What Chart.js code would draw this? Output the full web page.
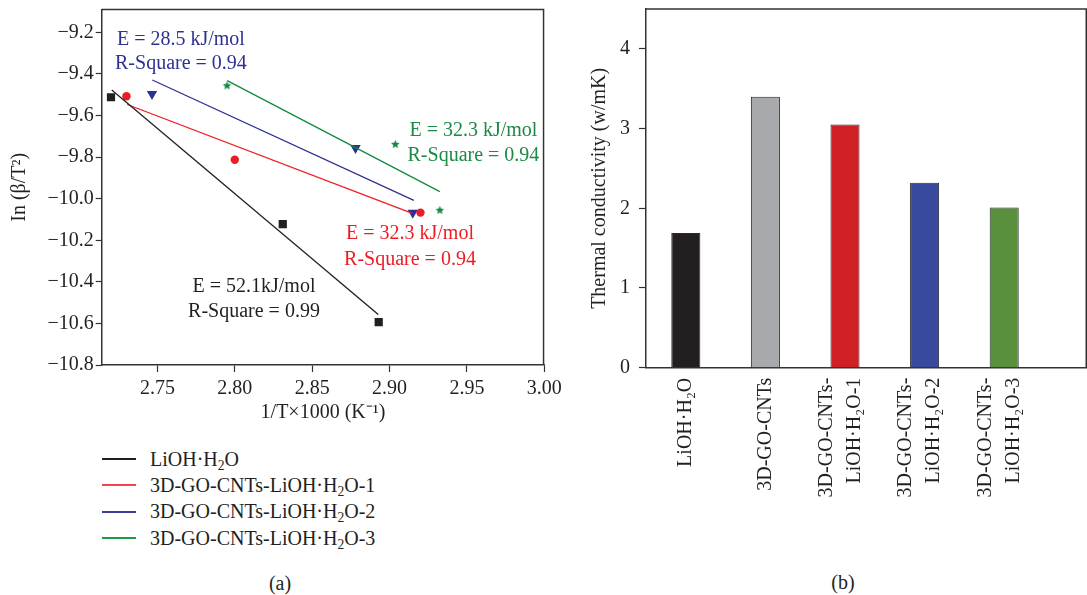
<!DOCTYPE html>
<html><head><meta charset="utf-8">
<script src="https://cdn.jsdelivr.net/npm/chart.js@4.4.1/dist/chart.umd.min.js"></script>
<style>
html,body{margin:0;padding:0;background:#fff;}
body{width:1087px;height:595px;position:relative;overflow:hidden;font-family:"Liberation Serif","Times New Roman",serif;color:#231f20;}
#c1{position:absolute;left:0;top:0;}
#c2{position:absolute;left:560px;top:0;}
#legend{position:absolute;left:102px;top:446px;}
.row{height:26.3px;display:flex;align-items:center;font-size:20px;white-space:nowrap;}
.sw{width:34px;height:2px;margin-right:14px;}
.row sub{font-size:0.68em;vertical-align:-0.3em;line-height:0;}
.cap{position:absolute;font-size:20px;transform:translate(-50%,-50%);white-space:nowrap;}
</style></head><body>
<canvas id="c1" width="580" height="430"></canvas>
<canvas id="c2" width="527" height="520"></canvas>
<div id="legend"></div>
<div class="cap" style="left:280px;top:583px">(a)</div>
<div class="cap" style="left:843px;top:582px">(b)</div>
<script>
// ---------- data (panel a) ----------
const seriesNames = ['LiOH·H₂O', '3D-GO-CNTs-LiOH·H₂O-1', '3D-GO-CNTs-LiOH·H₂O-2', '3D-GO-CNTs-LiOH·H₂O-3'];
const pureX = [2.720, 2.831, 2.893];
const pureY = [-9.512, -10.122, -10.594];
const s1X = [2.730, 2.800, 2.920];
const s1Y = [-9.507, -9.813, -10.067];
const s2X = [2.7465, 2.878, 2.915];
const s2Y = [-9.496, -9.756, -10.068];
const s3X = [2.795, 2.9037, 2.9325];
const s3Y = [-9.457, -9.739, -10.056];
const fitPureX = [2.7205, 2.8927];
const fitPureY = [-9.477, -10.557];
const fit1X = [2.7305, 2.9143];
const fit1Y = [-9.547, -10.069];
const fit2X = [2.7467, 2.9157];
const fit2Y = [-9.429, -10.008];
const fit3X = [2.7951, 2.9325];
const fit3Y = [-9.432, -9.966];
const energyLabels = ['E = 52.1kJ/mol', 'E = 32.3 kJ/mol', 'E = 28.5 kJ/mol', 'E = 32.3 kJ/mol'];
const rSquareLabels = ['R-Square = 0.99', 'R-Square = 0.94', 'R-Square = 0.94', 'R-Square = 0.94'];

// ---------- data (panel b) ----------
const barCategories = ['LiOH·H₂O', '3D-GO-CNTs', ['3D-GO-CNTs-', 'LiOH·H₂O-1'], ['3D-GO-CNTs-', 'LiOH·H₂O-2'], ['3D-GO-CNTs-', 'LiOH·H₂O-3']];
const barValues = [1.69, 3.40, 3.05, 2.32, 2.01];

// ---------- styles / layout ----------
const FONT = '"Liberation Serif", "Times New Roman", serif';
const INK = '#231f20';
const AXIS = '#333333';
const seriesColors = ['#231f20', '#ed1c24', '#2e3192', '#138a3f'];
const legendColors = ['#231f20', '#f0454f', '#3b3f9a', '#1c9a4a'];
const textColors = ['#231f20', '#ec1c24', '#2e3192', '#1a8a45'];
const barColors = ['#231f20', '#a7a9ac', '#d11f26', '#374a9e', '#5a8f3e'];
// annotation anchors in data units: [x, y line1, y line2]
const annotationAnchors = [[2.8124, -10.424, -10.544], [2.9132, -10.168, -10.296], [2.7652, -9.235, -9.352], [2.9542, -9.672, -9.793]];

Chart.defaults.font.family = FONT;
Chart.defaults.color = INK;
Chart.defaults.animation = false;

function pts(xs, ys) { return xs.map((x, i) => ({x: x, y: ys[i]})); }
function makeStar(color, r) {
  const c = document.createElement('canvas');
  const s = Math.ceil(r * 2 + 2);
  c.width = c.height = s;
  const g = c.getContext('2d');
  g.fillStyle = color;
  g.beginPath();
  for (let i = 0; i < 10; i++) {
    const a = -Math.PI / 2 + i * Math.PI / 5;
    const rr = i % 2 ? r * 0.45 : r;
    g.lineTo(s / 2 + rr * Math.cos(a), s / 2 + rr * Math.sin(a));
  }
  g.closePath(); g.fill();
  return c;
}
const minus = v => String(v).replace('-', '\u2212');

// plugin: frame, minor ticks, annotations
function framePlugin(minorLen) {
  return {
    id: 'frame',
    afterDraw(chart) {
      const {ctx, chartArea: a, scales} = chart;
      ctx.save();
      ctx.strokeStyle = AXIS;
      ctx.lineWidth = 1.5;
      ctx.beginPath();
      ctx.moveTo(a.left, a.top); ctx.lineTo(a.right - 0.75, a.top); ctx.lineTo(a.right - 0.75, a.bottom);
      ctx.stroke();
      ctx.lineWidth = 1.2;
      ctx.beginPath();
      const xs = scales.x, ys = scales.y;
      if (xs.options.minor) xs.ticks.forEach(t => {
        if (t.label === null) { const p = xs.getPixelForValue(t.value); ctx.moveTo(p, a.bottom); ctx.lineTo(p, a.bottom + minorLen); }
      });
      ys.ticks.forEach(t => {
        if (t.label === null) { const p = ys.getPixelForValue(t.value); ctx.moveTo(a.left, p); ctx.lineTo(a.left - minorLen, p); }
      });
      ctx.stroke();
      const ann = chart.options.plugins.frame && chart.options.plugins.frame.annotations;
      if (ann) {
        ctx.font = '20px ' + FONT;
        ctx.textAlign = 'center';
        ctx.textBaseline = 'middle';
        ann.forEach(n => {
          ctx.fillStyle = n.color;
          const px = xs.getPixelForValue(n.x);
          ctx.fillText(n.lines[0], px, ys.getPixelForValue(n.y1));
          ctx.fillText(n.lines[1], px, ys.getPixelForValue(n.y2));
        });
      }
      ctx.restore();
    }
  };
}

// ---------- panel a ----------
const pointXs = [pureX, s1X, s2X, s3X];
const pointYs = [pureY, s1Y, s2Y, s3Y];
const fitXs = [fitPureX, fit1X, fit2X, fit3X];
const fitYs = [fitPureY, fit1Y, fit2Y, fit3Y];
const markerStyles = ['rect', 'circle', 'triangle', makeStar(seriesColors[3], 4.5)];
const markerRadius = [5.8, 4.2, 6, 4];
const markerRotation = [0, 0, 180, 0];

const dsA = [];
seriesNames.forEach((name, i) => {
  dsA.push({
    label: name, type: 'scatter', data: pts(fitXs[i], fitYs[i]), showLine: true,
    borderColor: seriesColors[i], borderWidth: 1.3, pointRadius: 0, fill: false
  });
});
seriesNames.forEach((name, i) => {
  dsA.push({
    label: name + ' data', type: 'scatter', data: pts(pointXs[i], pointYs[i]), showLine: false,
    pointStyle: markerStyles[i], pointRadius: markerRadius[i], pointRotation: markerRotation[i],
    backgroundColor: seriesColors[i], borderColor: seriesColors[i], borderWidth: 0
  });
});

const isMultiple = (v, step) => Math.abs(v / step - Math.round(v / step)) < 1e-6;

new Chart(document.getElementById('c1'), {
  type: 'scatter',
  data: {datasets: dsA},
  options: {
    responsive: false, devicePixelRatio: 1, events: [],
    layout: {padding: {left: 0, top: 9.5, right: 35.7, bottom: 0}},
    plugins: {
      legend: {display: false}, tooltip: {enabled: false},
      frame: {annotations: annotationAnchors.map((a, i) => ({x: a[0], y1: a[1], y2: a[2], lines: [energyLabels[i], rSquareLabels[i]], color: textColors[i]}))}
    },
    scales: {
      x: {
        type: 'linear', min: 2.714, max: 3.0, minor: true,
        afterFit: s => { s.height = 65; s.paddingLeft = 0; },
        border: {color: AXIS, width: 1.5},
        grid: {drawOnChartArea: false, drawTicks: true, tickLength: 7, tickWidth: 1.2,
          tickColor: c => (c.tick && c.tick.label !== null) ? AXIS : 'rgba(0,0,0,0)'},
        ticks: {stepSize: 0.025, includeBounds: false, padding: 5, color: INK, font: {size: 20},
          maxRotation: 0, autoSkip: false,
          callback: v => isMultiple(v, 0.05) ? v.toFixed(2) : null},
        title: {display: true, text: '1/T×1000 (K⁻¹)', color: INK, font: {size: 20}, padding: {top: 0, bottom: 5}}
      },
      y: {
        type: 'linear', min: -10.8, max: -9.09,
        afterFit: s => { s.width = 101.7; s.paddingTop = 0; s.paddingBottom = 0; },
        border: {color: AXIS, width: 1.5},
        grid: {drawOnChartArea: false, drawTicks: true, tickLength: 6, tickWidth: 1.2,
          tickColor: c => (c.tick && c.tick.label !== null) ? AXIS : 'rgba(0,0,0,0)'},
        ticks: {stepSize: 0.1, includeBounds: false, padding: 2, color: INK, font: {size: 20},
          callback: v => isMultiple(v, 0.2) ? minus(v.toFixed(1)) : null},
        title: {display: true, text: 'In (β/T²)', color: INK, font: {size: 20}, padding: {top: 8, bottom: 0}}
      }
    }
  },
  plugins: [framePlugin(4)]
});

// HTML legend for panel a
const legendEl = document.getElementById('legend');
dsA.slice(0, seriesNames.length).forEach((d, i) => {
  const row = document.createElement('div');
  row.className = 'row';
  const sw = document.createElement('span');
  sw.className = 'sw';
  sw.style.background = legendColors[i];
  const tx = document.createElement('span');
  tx.innerHTML = d.label.replace(/₂/g, '<sub>2</sub>');
  row.appendChild(sw); row.appendChild(tx);
  legendEl.appendChild(row);
});

// ---------- panel b ----------
const LH = 28 / 3; // px between stacked label slots
function labelSlots(lab) {
  // single-line: centered slot; two-line: outer slots
  return Array.isArray(lab) ? [lab[0], '', '', lab[1]] : ['', '', lab];
}

new Chart(document.getElementById('c2'), {
  type: 'bar',
  data: {datasets: [{
    label: 'Thermal conductivity',
    data: barValues.map((v, i) => ({x: i + 1, y: v})),
    backgroundColor: barColors, borderColor: '#2b2b2b', borderWidth: 1,
    categoryPercentage: 1, barPercentage: 0.365
  }]},
  options: {
    responsive: false, devicePixelRatio: 1, events: [],
    layout: {padding: {left: 0, top: 9, right: 0, bottom: 0}},
    plugins: {legend: {display: false}, tooltip: {enabled: false}},
    scales: {
      x: {
        type: 'linear', min: 0.5, max: 6.04, offset: false,
        afterFit: s => { s.height = 152.3; s.paddingLeft = 0; s.paddingRight = 0; },
        border: {color: AXIS, width: 1.5},
        grid: {display: false, drawTicks: false},
        ticks: {stepSize: 1, includeBounds: false, autoSkip: false, minRotation: 90, maxRotation: 90,
          padding: 10, labelOffset: -2 * LH, color: INK, font: {size: 20, lineHeight: LH / 20},
          callback: v => (Number.isInteger(v) && v >= 1 && v <= barCategories.length) ? labelSlots(barCategories[v - 1]) : null}
      },
      y: {
        type: 'linear', min: 0, max: 4.5,
        afterFit: s => { s.width = 86; s.paddingTop = 0; s.paddingBottom = 0; },
        border: {color: AXIS, width: 1.5},
        grid: {drawOnChartArea: false, drawTicks: true, tickLength: 7, tickWidth: 1.2,
          tickColor: c => (c.tick && c.tick.label !== null) ? AXIS : 'rgba(0,0,0,0)'},
        ticks: {stepSize: 0.5, includeBounds: false, padding: 9, color: INK, font: {size: 20},
          callback: v => Number.isInteger(v) ? String(v) : null},
        title: {display: true, text: 'Thermal conductivity (w/mK)', color: INK, font: {size: 20}, padding: {top: 28, bottom: 0}}
      }
    }
  },
  plugins: [framePlugin(4)]
});
</script>
</body></html>
